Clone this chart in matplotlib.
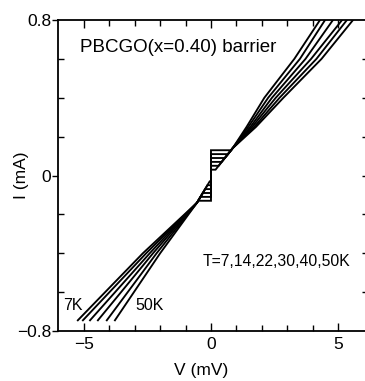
import numpy as np
import matplotlib.pyplot as plt

plt.rcParams['font.family'] = ['Liberation Sans', 'DejaVu Sans']

# temperatures (K) and critical currents (mA)
temps = [7, 14, 22, 30, 40, 50]
ic = [0.13, 0.11, 0.09, 0.07, 0.05, 0.03]

# negative branch: V at I=-0.745, I=-0.4 (mA)
v_bot = [-5.24, -5.04, -4.76, -4.45, -4.10, -3.78]
v_m04 = [-2.68, -2.55, -2.41, -2.28, -2.14, -2.00]
# where the horizontal jump meets the low-bias branch
v_jneg = [-0.50, -0.41, -0.32, -0.23, -0.14, -0.05]
v_jpos = [0.79, 0.67, 0.55, 0.42, 0.30, 0.18]
# positive branch: V at I=0.25, 0.4, 0.6, 0.8
v_p025 = [1.77, 1.70, 1.62, 1.55, 1.47, 1.40]
v_p04 = [2.85, 2.70, 2.55, 2.40, 2.25, 2.10]
v_p06 = [4.35, 4.15, 3.94, 3.72, 3.50, 3.28]
v_top = [5.59, 5.35, 5.16, 4.80, 4.49, 4.29]

fig = plt.figure(figsize=(3.65, 3.81), dpi=100)
ax = fig.add_axes([58/365, 50/381, 308/365, 311/381])

for k in range(len(temps)):
    V = [v_bot[k], v_m04[k], -0.55, v_jneg[k], 0, 0, v_jpos[k], 0.85,
         v_p025[k], v_p04[k], v_p06[k], v_top[k]]
    I = [-0.745, -0.4, -0.14, -ic[k], -ic[k], ic[k], ic[k], 0.14,
         0.25, 0.4, 0.6, 0.8]
    ax.plot(V, I, color='black', lw=1.35, solid_joinstyle='miter')

ax.set_xlim(-6.02, 6.1)
ax.set_ylim(-0.8, 0.8)

ax.set_xticks([-5, 0, 5])
ax.set_xticks([-4, -3, -2, -1, 1, 2, 3, 4], minor=True)
ax.set_yticks([-0.8, 0, 0.8])
ax.set_yticklabels(['\u22120.8', '0', '0.8'])
ax.set_xticklabels(['\u22125', '0', '5'])
ax.set_yticks([-0.6, -0.4, -0.2, 0.2, 0.4, 0.6], minor=True)

ax.tick_params(axis='x', which='both', direction='in', top=True,
               labelsize=12.5, width=1, pad=4)
ax.tick_params(axis='x', which='major', length=6)
ax.tick_params(axis='x', which='minor', length=4)
ax.tick_params(axis='y', which='major', direction='out', length=4,
               labelsize=12.5, width=1, pad=1)
ax.tick_params(axis='y', which='minor', direction='in', length=4, width=1)

sec = ax.secondary_yaxis('right')
sec.set_yticks([-0.6, -0.4, -0.2, 0, 0.2, 0.4, 0.6])
sec.tick_params(direction='in', length=3, width=1, labelright=False)

for s in ax.spines.values():
    s.set_linewidth(1.3)
sec.spines['right'].set_linewidth(1.3)

ax.set_xlabel('V (mV)', fontsize=12.5, va='center')
ax.xaxis.set_label_coords(0.464, -0.128)
ax.set_ylabel('I (mA)', fontsize=12.5, va='center')
ax.yaxis.set_label_coords(-0.117, 0.5)

fig.text(80/365, 1 - 47/381, 'PBCGO(x=0.40) barrier', fontsize=13.5,
         va='center', ha='left')
fig.text(203/365, 1 - 262/381, 'T=7,14,22,30,40,50K', fontsize=11.3,
         va='center', ha='left')
fig.text(63/365, 1 - 305/381, '7K', fontsize=11.5, va='center', ha='left')
fig.text(135/365, 1 - 305/381, '50K', fontsize=11.5, va='center', ha='left')

fig.savefig('out.png', dpi=100)
